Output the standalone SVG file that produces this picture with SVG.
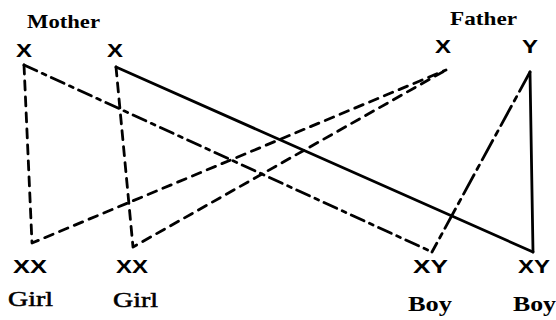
<svg xmlns="http://www.w3.org/2000/svg" width="556" height="320" viewBox="0 0 556 320">
<style>
.t{font-family:"Liberation Serif",serif;font-weight:bold;fill:#000}
.g{font-family:"Liberation Serif",serif;font-weight:normal;fill:#000;stroke:#000;stroke-width:0.5}
.c{font-family:"Liberation Sans",sans-serif;font-weight:bold;fill:#000}
.ln{stroke:#000;stroke-width:2.8;fill:none;stroke-linecap:round;stroke-linejoin:round}
.dash{stroke-dasharray:9 7}
.dd{stroke-dasharray:14 6 4 6}
.ld{stroke-dasharray:22 6 5 6}
</style>
<rect width="556" height="320" fill="#fff"/>
<g id="connectors">
<path class="ln dd" d="M24 65 L432 252"/>
<path class="ln dash" d="M24 65 L32 243 L446 70"/>
<path class="ln dash" d="M116 67 L133 247 L446 70"/>
<path class="ln" d="M116 67 L533 252"/>
<path class="ln ld" d="M530 72 L432 252"/>
<path class="ln" d="M530 72 L533 252"/>
</g>
<g id="mother">
<text class="t" x="27" y="28" font-size="19" textLength="73" lengthAdjust="spacingAndGlyphs">Mother</text>
<text class="c" x="16" y="57" font-size="18" textLength="16" lengthAdjust="spacingAndGlyphs">X</text>
<text class="c" x="107" y="57" font-size="18" textLength="16" lengthAdjust="spacingAndGlyphs">X</text>
</g>
<g id="father">
<text class="t" x="450" y="25" font-size="19" textLength="67" lengthAdjust="spacingAndGlyphs">Father</text>
<text class="c" x="435" y="53" font-size="18" textLength="16" lengthAdjust="spacingAndGlyphs">X</text>
<text class="c" x="522" y="53" font-size="18" textLength="16" lengthAdjust="spacingAndGlyphs">Y</text>
</g>
<g id="girl1">
<text class="c" x="13" y="273" font-size="19" textLength="34" lengthAdjust="spacingAndGlyphs">XX</text>
<text class="g" x="8" y="306" font-size="21" textLength="45" lengthAdjust="spacingAndGlyphs">Girl</text>
</g>
<g id="girl2">
<text class="c" x="116" y="273" font-size="19" textLength="32" lengthAdjust="spacingAndGlyphs">XX</text>
<text class="g" x="113" y="307" font-size="21" textLength="45" lengthAdjust="spacingAndGlyphs">Girl</text>
</g>
<g id="boy1">
<text class="c" x="413" y="273" font-size="19" textLength="35" lengthAdjust="spacingAndGlyphs">XY</text>
<text class="t" x="408" y="311" font-size="20" textLength="44" lengthAdjust="spacingAndGlyphs">Boy</text>
</g>
<g id="boy2">
<text class="c" x="518" y="273" font-size="19" textLength="32" lengthAdjust="spacingAndGlyphs">XY</text>
<text class="t" x="513" y="311" font-size="20" textLength="43" lengthAdjust="spacingAndGlyphs">Boy</text>
</g>
</svg>
